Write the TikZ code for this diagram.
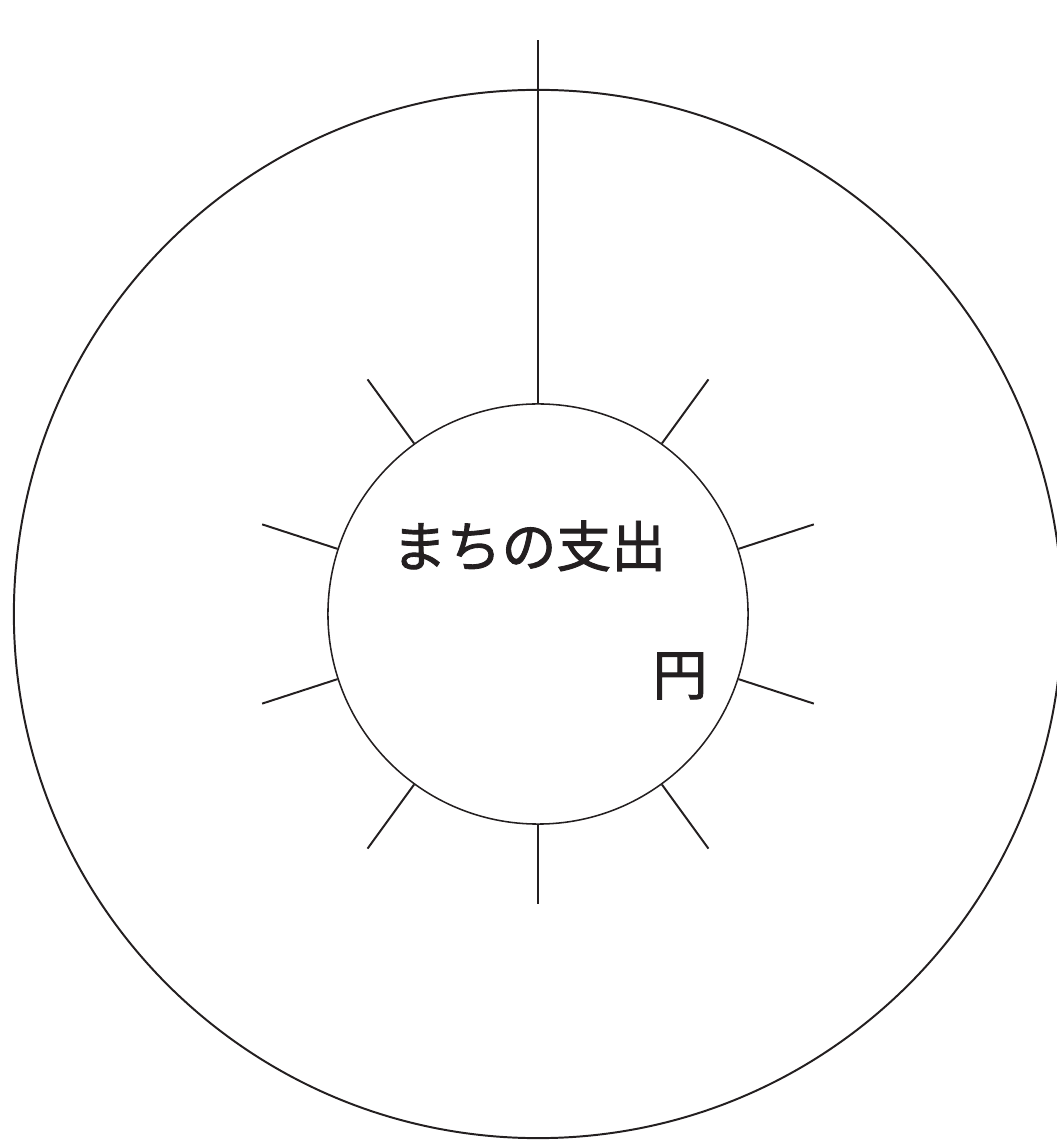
\documentclass[tikz,border=0pt]{standalone}
\usepackage{fontspec}
\newfontfamily\jpfont[FakeBold=1.6]{Noto Sans CJK JP}
\usetikzlibrary{positioning, calc}
\definecolor{InkBlack}{HTML}{231F20}

\begin{document}
\begin{tikzpicture}[x=0.025cm, y=0.025cm, line width=1.4pt, color=InkBlack]
    \useasboundingbox (0,0) rectangle (1057,1140);
    % Centre of both circles
    \coordinate (ctr) at (538,526);

    % Outer ring
    \node[circle, draw, inner sep=0pt, minimum size=26.2cm] (outer) at (ctr) {};

    % Inner disc
    \node[circle, draw, inner sep=0pt, minimum size=10.5cm, line width=1.1pt] (inner) at (ctr) {};

    % Rays round the inner disc
    \foreach \a in {126,162,198,234,270,306,342,18,54}
        \draw (inner.\a) -- ($(ctr)+(\a:290)$);
    \coordinate (topend) at (538,1100);
    \draw (inner.90) -- (topend);

    % Labels
    \node[font=\jpfont\fontsize{39pt}{45pt}\selectfont] (title) at (529,594) {まちの支出};
    \node[font=\jpfont\fontsize{39pt}{45pt}\selectfont] (unit) at (680,464) {円};
\end{tikzpicture}
\end{document}
